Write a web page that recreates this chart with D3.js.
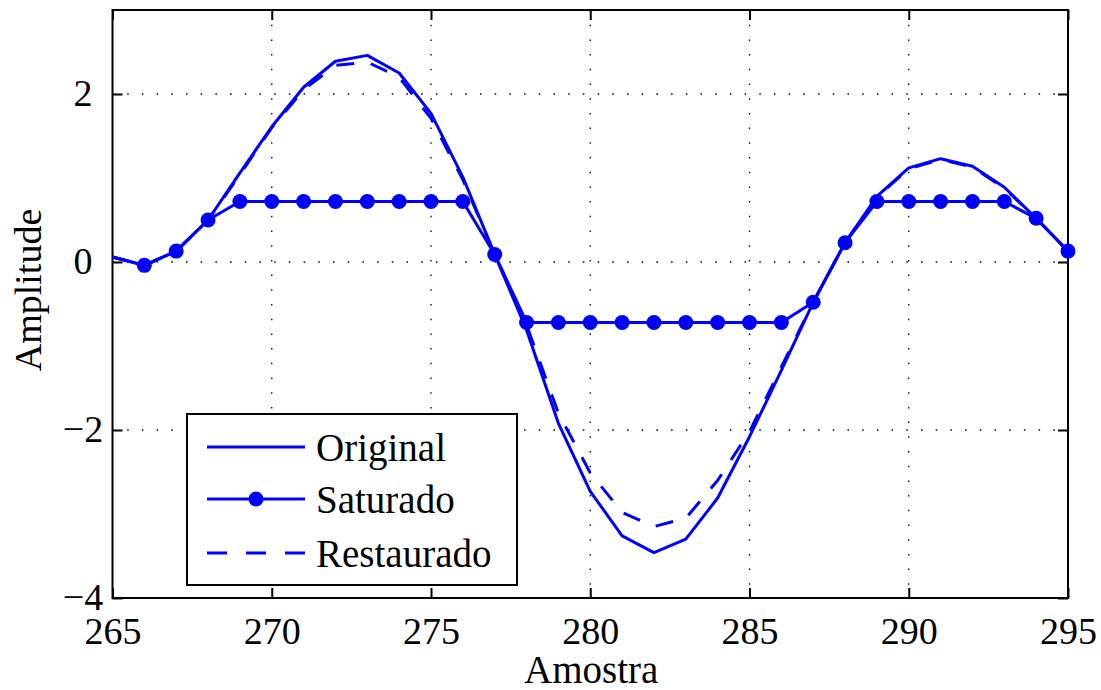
<!DOCTYPE html>
<html>
<head>
<meta charset="utf-8">
<script src="https://cdn.jsdelivr.net/npm/d3@7"></script>
<style>
  html, body { margin: 0; padding: 0; background: #fff; }
  svg { display: block; }
  text { font-family: "Liberation Serif", "Times New Roman", serif; fill: #000; }
</style>
</head>
<body>
<svg id="chart" width="1101" height="690"></svg>
<script>
// Sample indices shown on the horizontal axis
const samples = [265, 266, 267, 268, 269, 270, 271, 272, 273, 274, 275, 276, 277, 278, 279, 280,
                 281, 282, 283, 284, 285, 286, 287, 288, 289, 290, 291, 292, 293, 294, 295];

// Clean signal
const original = [0.06, -0.04, 0.13, 0.50, 1.06, 1.61, 2.08, 2.39, 2.46, 2.25, 1.77, 1.01, 0.09, -0.81, -1.92, -2.73,
                  -3.26, -3.46, -3.30, -2.81, -2.08, -1.29, -0.48, 0.23, 0.78, 1.12, 1.23, 1.14, 0.89, 0.52, 0.13];

// Clipped signal (limit ±0.72)
const saturated = [0.06, -0.04, 0.13, 0.50, 0.72, 0.72, 0.72, 0.72, 0.72, 0.72, 0.72, 0.72, 0.09, -0.72, -0.72, -0.72,
                   -0.72, -0.72, -0.72, -0.72, -0.72, -0.72, -0.48, 0.23, 0.72, 0.72, 0.72, 0.72, 0.72, 0.52, 0.13];

// Reconstructed signal
const restored = [0.06, -0.04, 0.13, 0.50, 1.04, 1.60, 2.05, 2.34, 2.38, 2.20, 1.71, 0.98, 0.09, -0.75, -1.80, -2.51,
                  -2.98, -3.15, -3.05, -2.60, -2.02, -1.25, -0.48, 0.23, 0.77, 1.11, 1.22, 1.13, 0.88, 0.52, 0.13];

const xTicks = [265, 270, 275, 280, 285, 290, 295];
const yTicks = [-4, -2, 0, 2];
const legendLabels = ["Original", "Saturado", "Restaurado"];

const blue = "#0000ff";
const margin = { left: 112.5, right: 1068, top: 10, bottom: 598 };

const svg = d3.select("#chart");

const x = d3.scaleLinear().domain([265, 295]).range([margin.left, margin.right]);
const y = d3.scaleLinear().domain([-4, 3]).range([margin.bottom, margin.top]);

// Plot clip region
svg.append("defs").append("clipPath").attr("id", "plotClip")
  .append("rect")
  .attr("x", margin.left).attr("y", margin.top)
  .attr("width", margin.right - margin.left).attr("height", margin.bottom - margin.top);

// Dotted grid
const grid = svg.append("g");
grid.selectAll("line.gx").data(xTicks.slice(1, -1)).join("line")
  .attr("x1", d => x(d)).attr("x2", d => x(d))
  .attr("y1", margin.top).attr("y2", margin.bottom)
  .attr("stroke", "#000").attr("stroke-width", 1.3).attr("stroke-dasharray", "1.5,13.2");
grid.selectAll("line.gy").data(yTicks.slice(1)).join("line")
  .attr("y1", d => y(d)).attr("y2", d => y(d))
  .attr("x1", margin.left).attr("x2", margin.right)
  .attr("stroke", "#000").attr("stroke-width", 1.3).attr("stroke-dasharray", "1.5,13.2");

// Axes with inward ticks on all four sides
const tickLen = 10;
const axB = svg.append("g").attr("transform", `translate(0,${margin.bottom})`)
  .call(d3.axisBottom(x).tickValues(xTicks).tickSizeInner(-tickLen).tickSizeOuter(0).tickPadding(19));
const axT = svg.append("g").attr("transform", `translate(0,${margin.top})`)
  .call(d3.axisTop(x).tickValues(xTicks).tickSizeInner(-tickLen).tickSizeOuter(0).tickFormat(""));
const axL = svg.append("g").attr("transform", `translate(${margin.left},0)`)
  .call(d3.axisLeft(y).tickValues(yTicks).tickSizeInner(-tickLen).tickSizeOuter(0).tickPadding(30)
    .tickFormat(d => d < 0 ? "\u2212" + Math.abs(d) : d));
const axR = svg.append("g").attr("transform", `translate(${margin.right},0)`)
  .call(d3.axisRight(y).tickValues(yTicks).tickSizeInner(-tickLen).tickSizeOuter(0).tickFormat(""));

[axB, axT, axL, axR].forEach(a => {
  a.select(".domain").remove();
  a.selectAll(".tick line").attr("stroke", "#000").attr("stroke-width", 2);
});
axB.selectAll(".tick text")
  .style("font-family", "Liberation Serif").style("font-size", "38px").attr("fill", "#000")
  .attr("dy", "0.71em");
axL.selectAll(".tick text")
  .style("font-family", "Liberation Serif").style("font-size", "38px").attr("fill", "#000")
  .attr("text-anchor", "middle").attr("x", 83 - margin.left).attr("dy", "0.3em");

// Frame
svg.append("rect")
  .attr("x", margin.left).attr("y", margin.top)
  .attr("width", margin.right - margin.left).attr("height", margin.bottom - margin.top)
  .attr("fill", "none").attr("stroke", "#000").attr("stroke-width", 2);

// Series
const line = d3.line().x((d, i) => x(samples[i])).y(d => y(d));
const plot = svg.append("g").attr("clip-path", "url(#plotClip)");

plot.append("path").datum(original).attr("d", line)
  .attr("fill", "none").attr("stroke", blue).attr("stroke-width", 3).attr("stroke-linejoin", "round");

plot.append("path").datum(saturated).attr("d", line)
  .attr("fill", "none").attr("stroke", blue).attr("stroke-width", 3).attr("stroke-linejoin", "round");

// Markers for the clipped series (the first sample sits on the left frame and carries no marker)
svg.append("g").selectAll("circle")
  .data(saturated.map((v, i) => ({ s: samples[i], v })).filter(d => d.s > 265))
  .join("circle")
  .attr("cx", d => x(d.s)).attr("cy", d => y(d.v)).attr("r", 7.5)
  .attr("fill", blue);

plot.append("path").datum(restored).attr("d", line)
  .attr("fill", "none").attr("stroke", blue).attr("stroke-width", 3).attr("stroke-dasharray", "18,17");

// Axis titles
svg.append("text").attr("x", (margin.left + margin.right) / 2 + 1).attr("y", 683)
  .attr("text-anchor", "middle").style("font-size", "39px").text("Amostra");
svg.append("text").attr("transform", "translate(41,290) rotate(-90)")
  .attr("text-anchor", "middle").style("font-size", "38px").text("Amplitude");

// Legend
const lg = svg.append("g");
lg.append("rect").attr("x", 187).attr("y", 414).attr("width", 330).attr("height", 171)
  .attr("fill", "#fff").attr("stroke", "#000").attr("stroke-width", 2);
const rowsY = [447, 499, 553];
const styles = [
  { dash: null, marker: false },
  { dash: null, marker: true },
  { dash: "20,19", marker: false }
];
legendLabels.forEach((lab, i) => {
  const ly = rowsY[i];
  const ln = lg.append("line").attr("x1", 207).attr("x2", 305).attr("y1", ly).attr("y2", ly)
    .attr("stroke", blue).attr("stroke-width", 3);
  if (styles[i].dash) ln.attr("stroke-dasharray", styles[i].dash);
  if (styles[i].marker) lg.append("circle").attr("cx", 256).attr("cy", ly).attr("r", 7.5).attr("fill", blue);
  lg.append("text").attr("x", 316).attr("y", ly).attr("dy", "0.35em")
    .style("font-size", "39px").text(lab);
});
</script>
</body>
</html>
